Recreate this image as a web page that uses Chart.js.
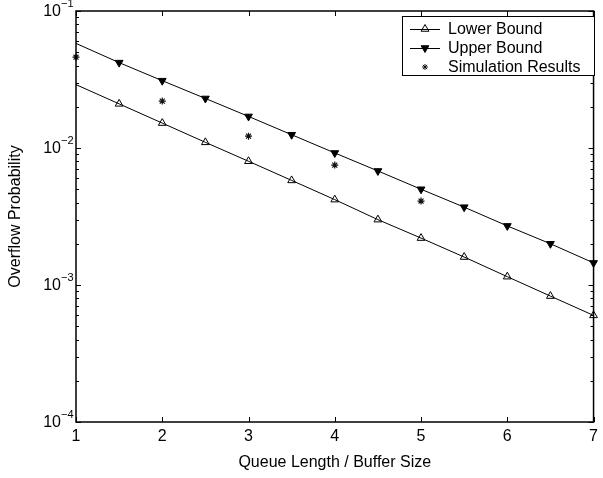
<!DOCTYPE html>
<html>
<head>
<meta charset="utf-8">
<script src="https://cdn.jsdelivr.net/npm/chart.js@4"></script>
<style>
  body { margin: 0; background: #fff; }
  canvas { display: block; }
</style>
</head>
<body>
<canvas id="overflowChart" width="603" height="478"></canvas>
<script>
// ============================================
// データ
// ============================================
const queueLengths = [1, 1.5, 2, 2.5, 3, 3.5, 4, 4.5, 5, 5.5, 6, 6.5, 7];
const lowerBound = [0.029, 0.021, 0.0152, 0.011, 0.008, 0.0058, 0.0042, 0.003, 0.0022, 0.0016, 0.00115, 0.00083, 0.0006];
const upperBound = [0.058, 0.042, 0.031, 0.023, 0.017, 0.0125, 0.0092, 0.0068, 0.005, 0.0037, 0.0027, 0.002, 0.00145];
const simLengths = [1, 2, 3, 4, 5];
const simResults = [0.046, 0.022, 0.0122, 0.0075, 0.0041];

const xTicks = [1, 2, 3, 4, 5, 6, 7];
const yExponents = [-4, -3, -2, -1];

const FONT = "'Liberation Sans', Arial, Helvetica, sans-serif";

// x,y の組にする
function toPoints(xs, ys) {
  return xs.map((x, i) => ({ x: x, y: ys[i] }));
}

// ============================================
// 軸の目盛り・枠・凡例を描くプラグイン（MATLAB風）
// ============================================
const matlabAxes = {
  id: "matlabAxes",
  afterDraw(chart) {
    const ctx = chart.ctx;
    const area = chart.chartArea;
    const xs = chart.scales.x;
    const ys = chart.scales.y;

    ctx.save();
    ctx.strokeStyle = "#000";
    ctx.lineWidth = 1.5;
    ctx.strokeRect(area.left, area.top, area.right - area.left, area.bottom - area.top);

    // x軸の目盛り（上下、内向き）
    ctx.lineWidth = 1;
    ctx.beginPath();
    xTicks.forEach((v) => {
      const px = Math.round(xs.getPixelForValue(v)) + 0.5;
      ctx.moveTo(px, area.bottom);
      ctx.lineTo(px, area.bottom - 5);
      ctx.moveTo(px, area.top);
      ctx.lineTo(px, area.top + 5);
    });
    // y軸の目盛り（左右、主目盛りと補助目盛り）
    yExponents.forEach((e) => {
      const py = Math.round(ys.getPixelForValue(Math.pow(10, e))) + 0.5;
      ctx.moveTo(area.left, py);
      ctx.lineTo(area.left + 5, py);
      ctx.moveTo(area.right, py);
      ctx.lineTo(area.right - 5, py);
      if (e === yExponents[yExponents.length - 1]) return;
      for (let m = 2; m <= 9; m++) {
        const my = Math.round(ys.getPixelForValue(m * Math.pow(10, e))) + 0.5;
        ctx.moveTo(area.left, my);
        ctx.lineTo(area.left + 3, my);
        ctx.moveTo(area.right, my);
        ctx.lineTo(area.right - 3, my);
      }
    });
    ctx.stroke();

    // y軸ラベル 10^n
    ctx.fillStyle = "#000";
    yExponents.forEach((e) => {
      const py = ys.getPixelForValue(Math.pow(10, e));
      ctx.font = "16px " + FONT;
      ctx.textAlign = "right";
      ctx.textBaseline = "middle";
      ctx.fillText("10", 61, py + 1);
      ctx.font = "11px " + FONT;
      ctx.textAlign = "left";
      ctx.fillText("\u2212" + Math.abs(e), 61, py - 7);
    });

    // 凡例
    const box = { left: 402, top: 16, right: 594, bottom: 75 };
    ctx.fillStyle = "#fff";
    ctx.fillRect(box.left, box.top, box.right - box.left, box.bottom - box.top);
    ctx.strokeStyle = "#000";
    ctx.lineWidth = 1;
    ctx.strokeRect(box.left + 0.5, box.top + 0.5, box.right - box.left, box.bottom - box.top);

    const rowY = [29, 48, 67];
    chart.data.datasets.forEach((ds, i) => {
      const y = rowY[i];
      if (ds.showLine) {
        ctx.beginPath();
        ctx.moveTo(410, y + 0.5);
        ctx.lineTo(440, y + 0.5);
        ctx.strokeStyle = "#000";
        ctx.lineWidth = 1;
        ctx.stroke();
      }
      ctx.fillStyle = ds.pointBackgroundColor;
      ctx.strokeStyle = ds.pointBorderColor;
      Chart.helpers.drawPoint(ctx, {
        pointStyle: ds.pointStyle,
        rotation: ds.pointRotation || 0,
        radius: ds.legendRadius,
        borderWidth: 1,
      }, 425, y);
      ctx.fillStyle = "#000";
      ctx.font = "16px " + FONT;
      ctx.textAlign = "left";
      ctx.textBaseline = "middle";
      ctx.fillText(ds.label, 448, y + 1);
    });
    ctx.restore();
  },
};

// ============================================
// グラフ本体
// ============================================
const ctx = document.getElementById("overflowChart").getContext("2d");
new Chart(ctx, {
  type: "line",
  data: {
    datasets: [
      {
        label: "Lower Bound",
        data: toPoints(queueLengths, lowerBound),
        showLine: true,
        borderColor: "#000",
        borderWidth: 1,
        pointStyle: "triangle",
        pointRadius: queueLengths.map((q, i) => (i === 0 ? 0 : 4.5)),
        pointBorderColor: "#000",
        pointBackgroundColor: "rgba(0,0,0,0)",
        pointBorderWidth: 1,
        legendRadius: 4.5,
        clip: false,
      },
      {
        label: "Upper Bound",
        data: toPoints(queueLengths, upperBound),
        showLine: true,
        borderColor: "#000",
        borderWidth: 1,
        pointStyle: "triangle",
        pointRotation: 180,
        pointRadius: queueLengths.map((q, i) => (i === 0 ? 0 : 4.5)),
        pointBorderColor: "#000",
        pointBackgroundColor: "#000",
        pointBorderWidth: 1,
        legendRadius: 4.5,
        clip: false,
      },
      {
        label: "Simulation Results",
        data: toPoints(simLengths, simResults),
        showLine: false,
        pointStyle: "star",
        pointRadius: 3.5,
        pointBorderColor: "#111",
        pointBackgroundColor: "#111",
        pointBorderWidth: 1.2,
        legendRadius: 3,
        clip: false,
      },
    ],
  },
  options: {
    responsive: false,
    animation: false,
    layout: { padding: { top: 11, right: 6, left: 0, bottom: 0 } },
    plugins: { legend: { display: false }, tooltip: { enabled: false } },
    scales: {
      x: {
        type: "linear",
        min: 1,
        max: 7,
        afterBuildTicks: (scale) => {
          scale.ticks = xTicks.map((v) => ({ value: v }));
        },
        afterFit: (scale) => { scale.height = 56; },
        grid: { display: false, drawTicks: false },
        border: { display: false },
        ticks: { color: "#000", font: { family: FONT, size: 16 }, padding: 5, maxRotation: 0 },
        title: {
          display: true,
          text: "Queue Length / Buffer Size",
          color: "#000",
          font: { family: FONT, size: 16 },
          padding: { top: 0, bottom: 6 },
        },
      },
      y: {
        type: "logarithmic",
        min: 1e-4,
        max: 1e-1,
        afterFit: (scale) => { scale.width = 76; },
        grid: { display: false, drawTicks: false },
        border: { display: false },
        ticks: { display: false },
        title: {
          display: true,
          text: "Overflow Probability",
          color: "#000",
          font: { family: FONT, size: 16 },
          padding: { top: 6, bottom: 0 },
        },
      },
    },
  },
  plugins: [matlabAxes],
});
</script>
</body>
</html>
